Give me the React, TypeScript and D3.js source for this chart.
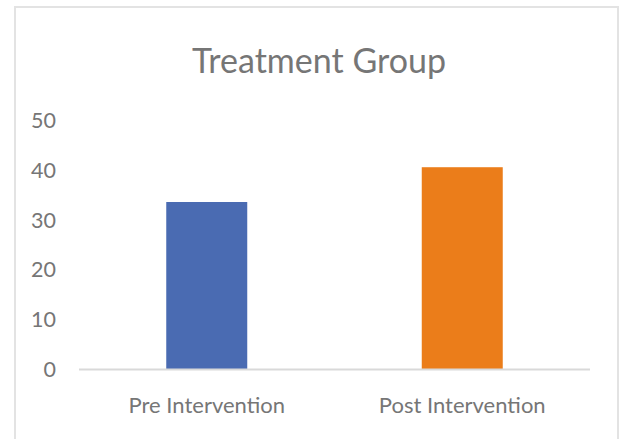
import React from "react";
import * as d3 from "d3";

const categories = ["Pre Intervention", "Post Intervention"];
const values = [33.6, 40.6];
const colors = ["#4A6BB2", "#EB7D1A"];
const yTicks = [0, 10, 20, 30, 40, 50];
const title = "Treatment Group";

const W = 621;
const H = 439;

export default function App() {
  const x = d3.scaleBand<string>().domain(categories).range([79, 590]).paddingInner(0.683).paddingOuter(0.3415);
  const y = d3.scaleLinear().domain([0, 50]).range([369, 120.5]);
  const font = "Lato, 'Open Sans', sans-serif";
  return (
    <svg width={W} height={H} style={{ position: "absolute", left: 0, top: 0, background: "#fff" }}>
      <rect x={15} y={7} width={603} height={460} fill="#fff" stroke="#e3e3e3" strokeWidth={2} />
      <text x={319} y={73} textAnchor="middle" fontFamily={font} fontSize={34} fill="#767676">
        {title}
      </text>
      {yTicks.map((t) => (
        <text key={t} x={56} y={y(t)} dy="0.36em" textAnchor="end" fontFamily={font} fontSize={21.5} fill="#767676">
          {t}
        </text>
      ))}
      {categories.map((c, i) => (
        <rect key={c} x={x(c)} y={y(values[i])} width={x.bandwidth()} height={y(0) - y(values[i])} fill={colors[i]} />
      ))}
      <line x1={79} x2={590} y1={y(0) + 0.5} y2={y(0) + 0.5} stroke="#d9d9d9" strokeWidth={2} />
      {categories.map((c) => (
        <text key={c} x={(x(c) as number) + x.bandwidth() / 2} y={413} textAnchor="middle" fontFamily={font} fontSize={22} fill="#767676">
          {c}
        </text>
      ))}
    </svg>
  );
}
